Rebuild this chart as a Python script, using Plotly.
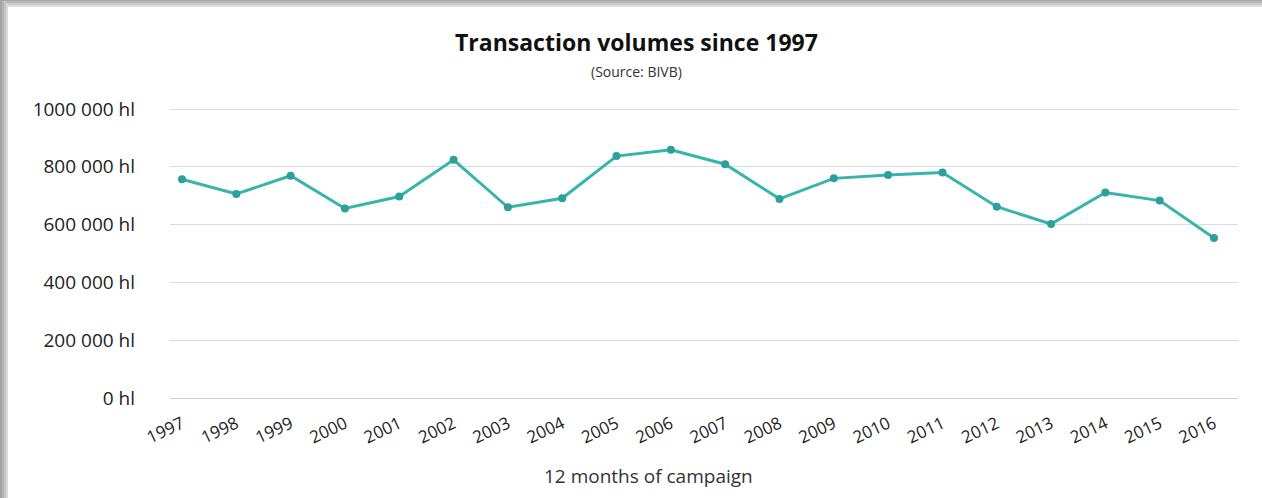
import plotly.graph_objects as go

years = [str(y) for y in range(1997, 2017)]
volumes = [757000, 706000, 769000, 656000, 697000, 824000, 660000, 691000,
           837000, 859000, 809000, 689000, 760000, 772000, 780000, 662000,
           602000, 711000, 683000, 554000]
y_ticks = [0, 200000, 400000, 600000, 800000, 1000000]
y_labels = ["0 hl", "200 000 hl", "400 000 hl", "600 000 hl", "800 000 hl", "1000 000 hl"]

W, H = 1262, 498
L, R, T, B = 170, 24, 107, 100
pw, ph = W - L - R, H - T - B

def px(x):
    return (x - L) / pw

def py(y):
    return (H - B - y) / ph

FONT = "Open Sans"
fig = go.Figure()
fig.add_trace(go.Scatter(
    x=years, y=volumes, mode="lines+markers",
    line=dict(color="#36b5ad", width=3),
    marker=dict(color="#2e9f9a", size=8),
    showlegend=False,
))

shapes = []
for i, c in enumerate(["#a4a4a4", "#b4b4b4", "#c6c6c6", "#dadada"]):
    shapes.append(dict(type="rect", xref="paper", yref="paper",
                       x0=px(0), x1=px(2 * (i + 1)), y0=py(H), y1=py(0),
                       fillcolor=c, line_width=0, layer="below"))
for i, c in enumerate(["#a8a8a8", "#b8b8b8", "#cacaca", "#dedede"]):
    shapes.append(dict(type="rect", xref="paper", yref="paper",
                       x0=px(0), x1=px(W), y0=py(2 * (i + 1) - 1), y1=py(0),
                       fillcolor=c, line_width=0, layer="below"))
shapes = sorted(shapes, key=lambda s: -(s["x1"] - s["x0"]) * (s["y1"] - s["y0"]))

# y range extended slightly so that the top gridline is drawn
ytop = 1000000 * ph / (ph - 2)

fig.update_layout(
    width=W, height=H,
    margin=dict(l=L, r=R, t=T, b=B, autoexpand=False),
    paper_bgcolor="white", plot_bgcolor="white",
    shapes=shapes,
    annotations=[
        dict(text="<b>Transaction volumes since 1997</b>", xref="paper", yref="paper",
             x=px(636), y=py(42), showarrow=False, xanchor="center", yanchor="middle",
             font=dict(family=FONT, size=23, color="#111111")),
        dict(text="(Source: BIVB)", xref="paper", yref="paper",
             x=px(636), y=py(71), showarrow=False, xanchor="center", yanchor="middle",
             font=dict(family=FONT, size=14, color="#333333")),
        dict(text="12 months of campaign", xref="paper", yref="paper",
             x=px(648), y=py(476), showarrow=False, xanchor="center", yanchor="middle",
             font=dict(family=FONT, size=19, color="#333333")),
    ],
    xaxis=dict(type="category", range=[-12 / 54.3, 19 + 24 / 54.3],
               showgrid=False, zeroline=False, showline=False,
               tickangle=-25, ticks="", ticklabelstandoff=12,
               tickfont=dict(family=FONT, size=17, color="#222222")),
    yaxis=dict(range=[0, ytop], tickvals=y_ticks, ticktext=y_labels,
               showgrid=True, gridcolor="#dcdcdc", gridwidth=1,
               zeroline=True, zerolinecolor="#d0d0d0", zerolinewidth=1,
               ticks="", ticklabelstandoff=34,
               tickfont=dict(family=FONT, size=19, color="#222222")),
)

fig.write_html("out.html")
